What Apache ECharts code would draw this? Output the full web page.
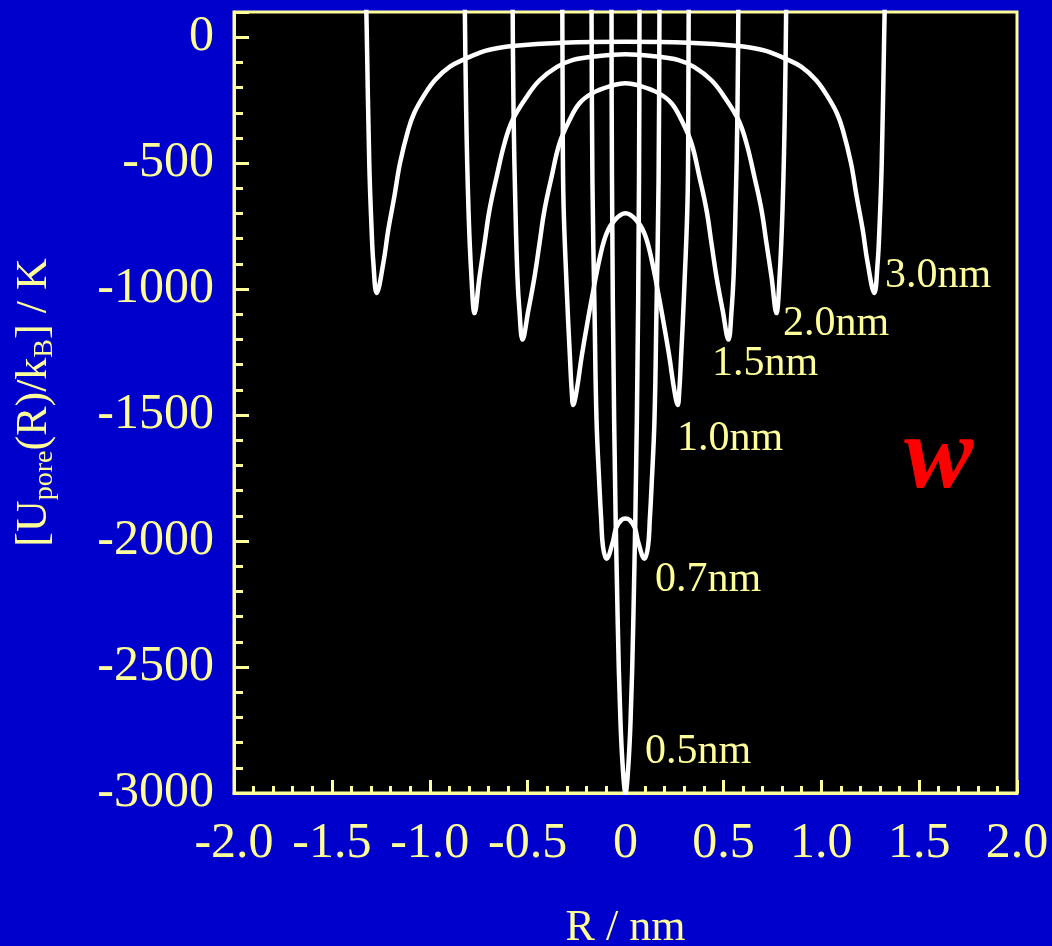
<!DOCTYPE html>
<html>
<head>
<meta charset="utf-8">
<title>Pore potential</title>
<script src="https://cdn.jsdelivr.net/npm/echarts@6/dist/echarts.min.js"></script>
<style>
  html, body { margin: 0; padding: 0; background: #0000cc; }
  #main { width: 1052px; height: 946px; }
</style>
</head>
<body>
<div id="main"></div>
<script>
// pore widths shown next to each curve
var poreNames = ['3.0nm', '2.0nm', '1.5nm', '1.0nm', '0.7nm', '0.5nm']

// [R / nm, U/kB / K] (values above 100 leave the frame)
var pore30 = [
  [-1.331, 400], [-1.322, 29], [-1.309, -500], [-1.297, -765], [-1.288, -896],
  [-1.271, -1015], [-1.237, -896], [-1.212, -765], [-1.181, -633], [-1.152, -500],
  [-1.110, -368], [-1.080, -302], [-1.033, -236], [-0.973, -170], [-0.897, -117],
  [-0.811, -83], [-0.746, -62], [-0.695, -50], [-0.577, -35], [-0.322, -22], [0, -18],
  [0.322, -22], [0.577, -35], [0.695, -50], [0.746, -62], [0.811, -83],
  [0.897, -117], [0.973, -170], [1.033, -236], [1.080, -302], [1.110, -368],
  [1.152, -500], [1.181, -633], [1.212, -765], [1.237, -896], [1.271, -1015],
  [1.288, -896], [1.297, -765], [1.309, -500], [1.322, 29], [1.331, 400]
]
var pore20 = [
  [-0.825, 400], [-0.814, -290], [-0.802, -687], [-0.787, -952], [-0.771, -1095],
  [-0.746, -952], [-0.720, -817], [-0.695, -687], [-0.659, -556], [-0.618, -421],
  [-0.577, -329], [-0.506, -238], [-0.439, -171], [-0.352, -119], [-0.271, -91],
  [-0.148, -76], [0, -68],
  [0.148, -76], [0.271, -91], [0.352, -119], [0.439, -171], [0.506, -238],
  [0.577, -329], [0.618, -421], [0.659, -556], [0.695, -687], [0.720, -817],
  [0.746, -952], [0.771, -1095], [0.787, -952], [0.802, -687], [0.814, -290],
  [0.825, 400]
]
var pore15 = [
  [-0.579, 400], [-0.572, -290], [-0.562, -687], [-0.552, -952], [-0.542, -1083],
  [-0.526, -1200], [-0.496, -1083], [-0.465, -952], [-0.439, -817], [-0.414, -687],
  [-0.378, -556], [-0.337, -421], [-0.286, -329], [-0.235, -262], [-0.169, -222],
  [-0.082, -195], [0, -183],
  [0.082, -195], [0.169, -222], [0.235, -262], [0.286, -329], [0.337, -421],
  [0.378, -556], [0.414, -687], [0.439, -817], [0.465, -952], [0.496, -1083],
  [0.526, -1200], [0.542, -1083], [0.552, -952], [0.562, -687], [0.572, -290],
  [0.579, 400]
]
var pore10 = [
  [-0.324, 400], [-0.321, -250], [-0.318, -606], [-0.300, -1003], [-0.284, -1268],
  [-0.275, -1400], [-0.267, -1460], [-0.249, -1400], [-0.224, -1268], [-0.195, -1135],
  [-0.164, -1003], [-0.130, -871], [-0.096, -778], [-0.054, -725], [0, -699],
  [0.054, -725], [0.096, -778], [0.130, -871], [0.164, -1003], [0.195, -1135],
  [0.224, -1268], [0.249, -1400], [0.267, -1460], [0.275, -1400], [0.284, -1268],
  [0.300, -1003], [0.318, -606], [0.321, -250], [0.324, 400]
]
var pore07 = [
  [-0.175, 400], [-0.169, -567], [-0.158, -1095], [-0.148, -1520], [-0.133, -1786],
  [-0.124, -1917], [-0.115, -2022], [-0.097, -2070], [-0.065, -2004], [-0.048, -1948],
  [-0.022, -1917], [0, -1910],
  [0.022, -1917], [0.048, -1948], [0.065, -2004], [0.097, -2070], [0.115, -2022],
  [0.124, -1917], [0.133, -1786], [0.148, -1520], [0.158, -1095], [0.169, -567],
  [0.175, 400]
]
var pore05 = [
  [-0.072, 400], [-0.069, -567], [-0.058, -1520], [-0.040, -2313], [-0.026, -2710],
  [-0.013, -2909], [0, -3000],
  [0.013, -2909], [0.026, -2710], [0.040, -2313], [0.058, -1520], [0.069, -567],
  [0.072, 400]
]
var curves = [pore30, pore20, pore15, pore10, pore07, pore05]

var yellow = '#ffff99'
var serif = '"Liberation Serif", "Times New Roman", serif'

var chart = echarts.init(document.getElementById('main'))

chart.setOption({
  animation: false,
  backgroundColor: '#0000cc',
  grid: {
    left: 234,
    top: 12,
    right: 35,
    bottom: 153,
    show: true,
    backgroundColor: '#000',
    borderColor: yellow,
    borderWidth: 3,
    containLabel: false,
    outerBoundsMode: 'none'
  },
  xAxis: {
    type: 'value',
    min: -2,
    max: 2,
    interval: 0.5,
    name: 'R / nm',
    nameLocation: 'middle',
    nameGap: 113,
    nameTextStyle: { color: yellow, fontFamily: serif, fontSize: 44, lineHeight: 44 },
    axisLine: { show: true, onZero: false, lineStyle: { color: yellow, width: 3 } },
    axisTick: { show: true, inside: true, length: 13, lineStyle: { color: yellow, width: 3 } },
    minorTick: { show: true, splitNumber: 5, length: 7, lineStyle: { color: yellow, width: 3 } },
    splitLine: { show: false },
    axisLabel: {
      color: yellow,
      fontFamily: serif,
      fontSize: 50,
      lineHeight: 50,
      margin: 26,
      interval: 0,
      formatter: function (v) { return v === 0 ? '0' : v.toFixed(1) }
    }
  },
  yAxis: {
    type: 'value',
    min: -3000,
    max: 100,
    interval: 500,
    name: '{m|[U}{s|pore}{m|(R)/k}{s|B}{m|] / K}',
    nameLocation: 'middle',
    nameGap: 175,
    nameTextStyle: {
      color: yellow,
      rich: {
        m: { color: yellow, fontFamily: serif, fontSize: 44, lineHeight: 50, verticalAlign: 'middle' },
        s: { color: yellow, fontFamily: serif, fontSize: 28, lineHeight: 25, verticalAlign: 'bottom' }
      }
    },
    axisLine: { show: true, onZero: false, lineStyle: { color: yellow, width: 3 } },
    axisTick: { show: true, inside: true, length: 15, lineStyle: { color: yellow, width: 3 } },
    minorTick: { show: true, splitNumber: 5, length: 9, lineStyle: { color: yellow, width: 3 } },
    splitLine: { show: false },
    axisLabel: {
      color: yellow,
      fontFamily: serif,
      fontSize: 50,
      margin: 20,
      showMaxLabel: false,
      formatter: function (v) { return String(v) }
    }
  },
  series: curves.map(function (d, i) {
    return {
      name: poreNames[i],
      type: 'line',
      data: d,
      showSymbol: false,
      smooth: 0.4,
      clip: true,
      lineStyle: { color: '#fff', width: 4.5 }
    }
  }),
  graphic: [
    { type: 'text', x: 885, y: 276, style: { text: poreNames[0], fill: yellow, font: '42px ' + serif, verticalAlign: 'middle' } },
    { type: 'text', x: 783, y: 324, style: { text: poreNames[1], fill: yellow, font: '42px ' + serif, verticalAlign: 'middle' } },
    { type: 'text', x: 712, y: 364, style: { text: poreNames[2], fill: yellow, font: '42px ' + serif, verticalAlign: 'middle' } },
    { type: 'text', x: 677, y: 439, style: { text: poreNames[3], fill: yellow, font: '42px ' + serif, verticalAlign: 'middle' } },
    { type: 'text', x: 655, y: 580, style: { text: poreNames[4], fill: yellow, font: '42px ' + serif, verticalAlign: 'middle' } },
    { type: 'text', x: 645, y: 752, style: { text: poreNames[5], fill: yellow, font: '42px ' + serif, verticalAlign: 'middle' } },
    { type: 'text', x: 904, y: 460, style: { text: 'w', fill: '#ff0000', font: 'italic bold 104px ' + serif, verticalAlign: 'middle' } }
  ]
})
</script>
</body>
</html>
